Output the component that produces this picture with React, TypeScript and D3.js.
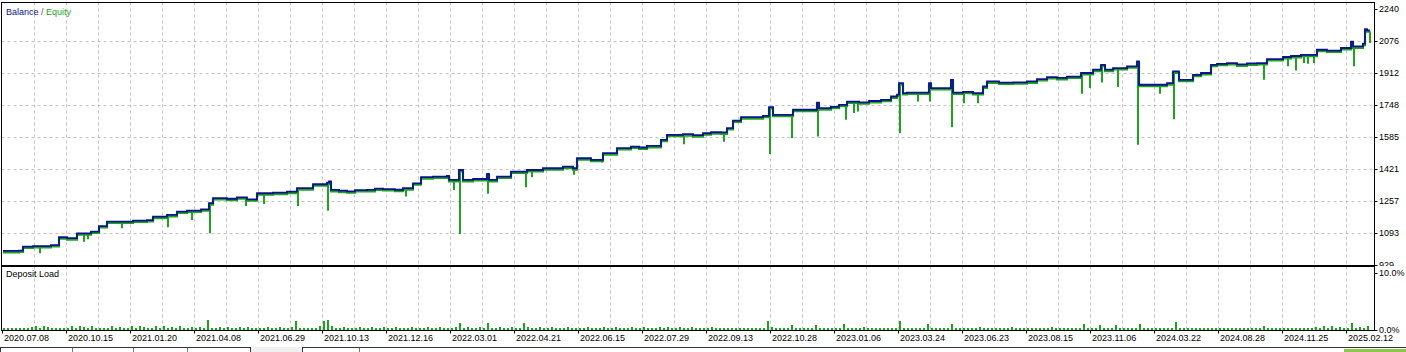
import React from "react";
import * as d3 from "d3";

// ---------- DATA ----------
const TOTAL_TRADES = 684;

const dateLabels = [
  "2020.07.08", "2020.10.15", "2021.01.20", "2021.04.08", "2021.06.29", "2021.10.13",
  "2021.12.16", "2022.03.01", "2022.04.21", "2022.06.15", "2022.07.29", "2022.09.13",
  "2022.10.28", "2023.01.06", "2023.03.24", "2023.06.23", "2023.08.15", "2023.11.06",
  "2024.03.22", "2024.08.28", "2024.11.25", "2025.02.12",
];
const labelEvery = 32; // trades between date labels
const gridEvery = 16; // trades between vertical grid lines

const yTicks = [929, 1093, 1257, 1421, 1585, 1748, 1912, 2076, 2240];
const loadTicks = [0, 10];

const balanceTrade = [
  0, 8, 10, 15, 24, 28, 32, 37, 44, 48, 52, 65, 72, 75, 82, 87, 92, 99, 103, 105,
  112, 117, 122, 127, 135, 142, 147, 155, 162, 163, 164, 168, 172, 176, 182, 186, 190, 196, 200, 205,
  209, 215, 222, 223, 228, 230, 235, 242, 243, 247, 254, 262, 270, 280, 285, 287, 294, 300, 307, 314,
  318, 322, 329, 332, 340, 345, 350, 354, 359, 362, 365, 369, 380, 383, 385, 395, 407, 408, 414, 418,
  422, 428, 433, 439, 444, 447, 448, 450, 452, 463, 464, 474, 475, 480, 485, 490, 492, 498, 505, 512,
  517, 522, 527, 532, 539, 545, 549, 551, 555, 562, 567, 568, 582, 585, 588, 595, 599, 604, 607, 612,
  617, 622, 627, 632, 640, 644, 649, 657, 662, 669, 674, 675, 680, 681, 682, 683,
];
const balanceValue = [
  1001, 1003, 1023, 1026, 1031, 1071, 1066, 1091, 1100, 1128, 1151, 1156, 1159, 1176, 1185, 1202, 1207, 1214, 1245, 1271,
  1268, 1275, 1265, 1296, 1299, 1304, 1322, 1342, 1350, 1356, 1313, 1309, 1306, 1312, 1313, 1320, 1317, 1314, 1322, 1347,
  1378, 1381, 1385, 1364, 1415, 1364, 1369, 1395, 1364, 1381, 1407, 1415, 1424, 1432, 1424, 1475, 1467, 1501, 1527, 1535,
  1530, 1538, 1569, 1595, 1598, 1593, 1603, 1608, 1607, 1629, 1668, 1685, 1692, 1737, 1697, 1723, 1759, 1731, 1738, 1748,
  1765, 1761, 1768, 1774, 1791, 1800, 1859, 1808, 1811, 1859, 1834, 1876, 1811, 1815, 1808, 1842, 1868, 1862, 1863, 1868,
  1880, 1890, 1886, 1893, 1911, 1928, 1953, 1928, 1936, 1945, 1970, 1851, 1859, 1919, 1876, 1902, 1911, 1953, 1958, 1962,
  1955, 1960, 1962, 1982, 1993, 1998, 2004, 2030, 2026, 2039, 2072, 2047, 2061, 2136, 2129, 2124,
];

// typical floating loss keeping equity just under balance
const equityFloat = 7;

const equityDipTrade = [
  18, 40, 42, 59, 82, 94, 103, 121, 130, 147, 162, 201, 225, 228, 242, 261, 264, 285, 299, 340,
  360, 383, 394, 407, 421, 425, 427, 448, 457, 463, 474, 480, 487, 539, 543, 549, 557, 567, 578, 585,
  630, 642, 646, 650, 652, 655, 675, 683,
];
const equityDipValue = [
  989, 1048, 1061, 1117, 1122, 1159, 1091, 1231, 1241, 1231, 1206, 1279, 1313, 1088, 1293, 1327, 1378, 1390, 1453, 1547,
  1559, 1497, 1578, 1586, 1672, 1706, 1714, 1603, 1765, 1765, 1634, 1757, 1757, 1805, 1834, 1863, 1839, 1544, 1805, 1675,
  1876, 1945, 1924, 1962, 1958, 1962, 1945, 2064,
];

// deposit load in tenths of a percent, one value per two trades
const depositLoadTenths = [
  3, 3, 4, 3, 3, 4, 3, 6, 7, 4, 7, 6, 4, 4, 4, 3,
  4, 7, 3, 7, 6, 3, 7, 4, 3, 4, 3, 7, 3, 6, 4, 4,
  7, 3, 7, 6, 4, 3, 7, 3, 7, 4, 6, 3, 7, 4, 3, 6,
  3, 6, 4, 17, 4, 4, 6, 3, 6, 4, 3, 6, 3, 6, 4, 4,
  4, 3, 6, 4, 3, 6, 4, 3, 6, 15, 4, 3, 4, 3, 4, 7,
  16, 17, 7, 4, 3, 6, 4, 3, 4, 6, 3, 4, 6, 3, 4, 6,
  4, 3, 6, 4, 3, 4, 6, 3, 4, 3, 6, 4, 3, 6, 4, 3,
  4, 6, 13, 4, 6, 4, 3, 6, 4, 12, 4, 3, 6, 3, 4, 6,
  4, 3, 12, 6, 4, 3, 6, 4, 3, 6, 4, 3, 4, 6, 3, 4,
  3, 4, 6, 3, 4, 3, 6, 4, 3, 6, 4, 3, 4, 6, 3, 4,
  6, 4, 3, 4, 6, 3, 6, 4, 3, 6, 4, 3, 6, 4, 3, 4,
  3, 6, 4, 3, 4, 3, 4, 3, 4, 3, 4, 3, 4, 4, 3, 15,
  6, 4, 3, 4, 3, 9, 4, 3, 4, 3, 4, 9, 4, 3, 4, 3,
  4, 3, 10, 4, 3, 4, 3, 6, 3, 4, 3, 4, 3, 4, 3, 4,
  15, 4, 3, 4, 3, 4, 3, 10, 4, 3, 4, 3, 4, 10, 4, 3,
  4, 3, 4, 3, 6, 3, 4, 3, 4, 3, 4, 3, 6, 3, 4, 3,
  4, 3, 4, 3, 4, 3, 6, 3, 4, 3, 4, 3, 4, 3, 10, 4,
  3, 4, 9, 4, 3, 4, 8, 4, 3, 4, 3, 4, 10, 4, 3, 4,
  3, 4, 3, 4, 3, 14, 4, 3, 4, 3, 4, 3, 4, 3, 4, 3,
  4, 3, 4, 3, 4, 3, 4, 3, 4, 3, 4, 7, 4, 3, 4, 3,
  4, 3, 4, 3, 4, 3, 4, 3, 6, 4, 7, 3, 7, 4, 6, 4,
  4, 13, 4, 6, 4, 7,
];

// ---------- STYLE ----------
const BLUE = "#0b138a";
const GREEN = "#1ea31e";
const GRID = "#c4c4c4";
const FONT = "'Liberation Sans', Arial, sans-serif";

export default function App() {
  const W = 1406;
  const H = 352;
  const left = 1.5;
  const right = 1374.5;
  const mainTop = 2.5;
  const mainBottom = 265.5;
  const loadTop = 266.5;
  const loadBottom = 330.5;

  const x = d3.scaleLinear().domain([0, TOTAL_TRADES]).range([3, 1371]);
  const y = d3.scaleLinear().domain([929, 2240]).range([265, 8.7]);
  const yL = d3.scaleLinear().domain([0, 10]).range([330, 273]);

  const balPts: [number, number][] = balanceTrade.map((t, i) => [t, balanceValue[i]]);
  const eqPts: [number, number][] = balanceTrade.map((t, i) => [t, balanceValue[i] - equityFloat]);

  const stepLine = d3
    .line<[number, number]>()
    .x((d) => x(d[0]))
    .y((d) => y(d[1]))
    .curve(d3.curveStepAfter);

  const balAt = (t: number) => {
    const i = Math.max(0, d3.bisectRight(balanceTrade, t) - 1);
    return balanceValue[i];
  };

  const gridTrades = d3.range(0, TOTAL_TRADES - 8, gridEvery);
  const labelTrades = dateLabels.map((_, i) => i * labelEvery);
  const gx = (t: number) => Math.round(x(t)) - 0.5;

  return (
    <svg
      width={W}
      height={H}
      style={{ position: "absolute", left: 0, top: 0, display: "block", background: "#fff" }}
      fontFamily={FONT}
    >
      <rect x={0} y={0} width={W} height={H} fill="#fff" />

      {/* main panel horizontal grid */}
      {yTicks.slice(1, -1).map((v) => (
        <line
          key={"hg" + v}
          x1={left}
          x2={right}
          y1={Math.round(y(v)) + 0.5}
          y2={Math.round(y(v)) + 0.5}
          stroke={GRID}
          strokeDasharray="3,3"
        />
      ))}
      {/* vertical grid, main panel */}
      {gridTrades.slice(1).map((t) => (
        <line key={"vg" + t} x1={gx(t)} x2={gx(t)} y1={mainTop} y2={mainBottom} stroke={GRID} strokeDasharray="3,3" />
      ))}

      {/* equity */}
      <path d={stepLine(eqPts) || ""} fill="none" stroke={GREEN} strokeWidth={2.2} />
      {equityDipTrade.map((t, i) => (
        <line
          key={"dip" + i}
          x1={x(t) + 1}
          x2={x(t) + 1}
          y1={y(balAt(t))}
          y2={y(equityDipValue[i])}
          stroke={GREEN}
          strokeWidth={2}
        />
      ))}
      {/* balance */}
      <path d={stepLine(balPts) || ""} fill="none" stroke={BLUE} strokeWidth={1.8} />

      {/* main frame */}
      <rect x={left} y={mainTop} width={right - left} height={mainBottom - mainTop} fill="none" stroke="#000" />

      {/* legend */}
      <text x={6} y={12.5} fontSize={9} dominantBaseline="middle">
        <tspan fill={BLUE}>Balance</tspan>
        <tspan fill="#555"> / </tspan>
        <tspan fill={GREEN}>Equity</tspan>
      </text>

      {/* y labels */}
      {yTicks.map((v) => (
        <g key={"yl" + v}>
          <line x1={right} x2={right + 3} y1={Math.round(y(v)) + 0.5} y2={Math.round(y(v)) + 0.5} stroke="#000" />
          <text x={1379} y={y(v) + 0.5} fontSize={9} fill="#000" dominantBaseline="middle">
            {v}
          </text>
        </g>
      ))}

      {/* deposit load panel covers bottom part of the 929 label */}
      <rect x={0} y={loadTop - 0.5} width={W} height={347 - loadTop} fill="#fff" />
      {gridTrades.slice(1).map((t) => (
        <line key={"vg2" + t} x1={gx(t)} x2={gx(t)} y1={loadTop} y2={loadBottom} stroke={GRID} strokeDasharray="3,3" />
      ))}
      {depositLoadTenths.map((v, b) => {
        const top = Math.round(yL(v / 10));
        return (
          <rect
            key={"dl" + b}
            x={Math.round(x(2 * b))}
            width={x(1) - x(0)}
            y={top}
            height={Math.round(yL(0)) - top}
            fill={GREEN}
          />
        );
      })}
      <rect x={left} y={loadTop} width={right - left} height={loadBottom - loadTop} fill="none" stroke="#000" />
      <text x={6} y={275} fontSize={9} fill="#000" dominantBaseline="middle">
        Deposit Load
      </text>
      {loadTicks.map((v) => (
        <g key={"ll" + v}>
          <line x1={right} x2={right + 3} y1={Math.round(yL(v)) + 0.5} y2={Math.round(yL(v)) + 0.5} stroke="#000" />
          <text x={1379} y={yL(v) + 1} fontSize={9} fill="#000" dominantBaseline="middle">
            {v.toFixed(1) + "%"}
          </text>
        </g>
      ))}

      {/* date labels */}
      {labelTrades.map((t, i) => (
        <g key={"dx" + i}>
          <line x1={gx(t)} x2={gx(t)} y1={loadBottom} y2={loadBottom + 3} stroke="#000" />
          <text x={x(t) + 1} y={338.5} fontSize={9} fill="#000" dominantBaseline="middle">
            {dateLabels[i]}
          </text>
        </g>
      ))}

      {/* bottom tab strip */}
      <rect x={0} y={347} width={W} height={5} fill="#f0f0f0" />
      <rect x={0.5} y={347.5} width={250} height={10} fill="#fff" stroke="#333" />
      {[72, 133, 187].map((v) => (
        <line key={"tb" + v} x1={v + 0.5} x2={v + 0.5} y1={348} y2={352} stroke="#777" />
      ))}
      <rect x={302.5} y={347.5} width={1110} height={10} fill="#fff" stroke="#333" />
      <line x1={359.5} x2={359.5} y1={348} y2={352} stroke="#777" />
      <rect x={1344} y={349} width={62} height={3} fill="#8cc84b" />
    </svg>
  );
}
